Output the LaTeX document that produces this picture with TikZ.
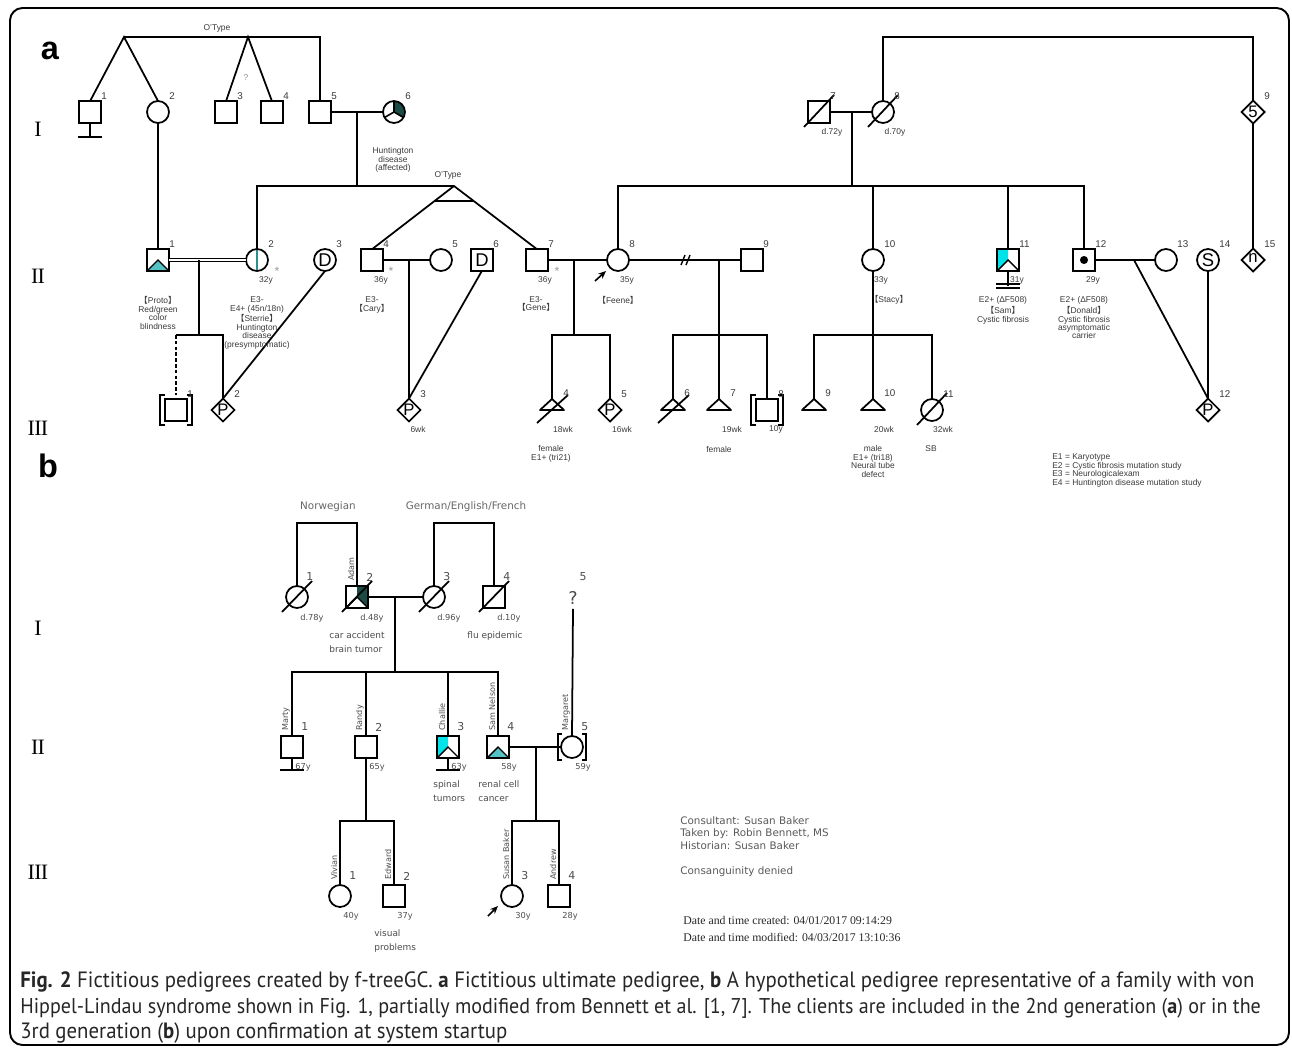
\documentclass[tikz,border=0pt]{standalone}
\usepackage{fontspec}
\setmainfont{Liberation Sans}
\newfontfamily\dvsans{DejaVu Sans}
\newfontfamily\romfont{Liberation Serif}
\newfontfamily\capfont[FakeStretch=0.94]{PT Sans}
\newfontfamily\cjkfont{Noto Sans CJK SC}
\usetikzlibrary{shapes.geometric, calc, arrows.meta}
\definecolor{tealfill}{HTML}{55C2C4}
\definecolor{cyanfill}{HTML}{00E3E8}
\definecolor{darkfill}{HTML}{1B4B45}
\definecolor{tealline}{HTML}{2A8F8F}
\definecolor{labelgray}{HTML}{3A3A3A}
\newcommand\lbk{{\cjkfont 【}}
\newcommand\rbk{{\cjkfont 】}}

\begin{document}
\begin{tikzpicture}[x=0.02cm, y=-0.02cm,
    line/.style={line width=1pt},
    ind/.style={draw, line width=1pt, inner sep=0pt, outer sep=0pt, minimum size=0.44cm},
    male/.style={ind, rectangle, minimum size=0.43cm},
    female/.style={ind, circle},
    unknown/.style={ind, diamond, minimum size=0.46cm},
    inletter/.style={inner sep=0pt, font=\fontsize{9.5}{10}\selectfont},
    affecttri/.style={path picture={\filldraw[fill=tealfill, line width=0.8pt] (path picture bounding box.south west) -- (path picture bounding box.center) -- (path picture bounding box.south east);}},
    cyanleft/.style={path picture={
        \fill[cyanfill] (path picture bounding box.north west) -- (path picture bounding box.north) -- (path picture bounding box.center) -- (path picture bounding box.south west) -- cycle;
        \draw[line width=0.8pt] (path picture bounding box.south west) -- (path picture bounding box.center) -- (path picture bounding box.south east);}},
    darkright/.style={path picture={
        \fill[darkfill] (path picture bounding box.north) -- (path picture bounding box.north east) -- (path picture bounding box.south east) -- (path picture bounding box.center) -- cycle;
        \draw[line width=0.8pt] (path picture bounding box.south west) -- (path picture bounding box.center) -- (path picture bounding box.south east);}},
    hdpie/.style={path picture={
        \fill[darkfill] (path picture bounding box.center) -- ([shift={(0,-14)}]path picture bounding box.center) -- ([shift={(14,-14)}]path picture bounding box.center) -- ([shift={(14,8.1)}]path picture bounding box.center) -- cycle;
        \draw[line width=0.9pt] ([shift={(0,-12)}]path picture bounding box.center) -- (path picture bounding box.center) -- ([shift={(-10.4,6)}]path picture bounding box.center) (path picture bounding box.center) -- ([shift={(10.4,6)}]path picture bounding box.center);}},
    tealvline/.style={path picture={\draw[tealline, line width=1.2pt] (path picture bounding box.north) -- (path picture bounding box.south);}},
    carrier/.style={path picture={\fill (path picture bounding box.center) circle (2.3pt);}},
    anum/.style={anchor=west, inner sep=0pt, text=labelgray, font=\fontsize{5.6}{6}\selectfont},
    alabel/.style={align=center, inner sep=0pt, text=labelgray, font=\fontsize{4.8}{4.8}\selectfont},
    star/.style={inner sep=0pt, text=black!40, font=\fontsize{7}{7}\selectfont},
    bnum/.style={anchor=west, inner sep=0pt, text=black!70, font=\dvsans\fontsize{6.2}{7}\selectfont},
    bage/.style={inner sep=0pt, text=black!70, font=\dvsans\fontsize{4.7}{5}\selectfont},
    bname/.style={rotate=90, anchor=west, inner sep=0pt, text=black!70, font=\dvsans\fontsize{4.6}{5}\selectfont},
    bnote/.style={align=left, inner sep=0pt, text=black!70, font=\dvsans\fontsize{5.1}{7.9}\selectfont},
    roman/.style={inner sep=0pt, font=\romfont\fontsize{12.5}{13}\selectfont},
    panel/.style={inner sep=0pt, font=\bfseries\fontsize{18.5}{20}\selectfont},
    caption/.style={anchor=west, inner sep=0pt, text=black!85, font=\capfont\fontsize{12.6}{14}\selectfont},
    proband/.style={-{Stealth[length=4.5pt, width=3.8pt]}, line width=0.9pt}
]
    \useasboundingbox (0,0) rectangle (1292,1048);
    \draw[line width=1.1pt, rounded corners=0.25cm] (10,8) rectangle (1289,1045);

    % panel labels and generations
    \node[panel] (panA) at (50,51) {a};
    \node[panel] (panB) at (48,466) {b};
    \node[roman] (genaI) at (38,129) {I};
    \node[roman] (genaII) at (38,276) {I\kern-0.4pt I};
    \node[roman] (genaIII) at (38,428) {I\kern-0.4pt I\kern-0.4pt I};
    \node[roman] (genbI) at (38,628) {I};
    \node[roman] (genbII) at (38,747) {I\kern-0.4pt I};
    \node[roman] (genbIII) at (38,872) {I\kern-0.4pt I\kern-0.4pt I};

    %%% panel a
    % generation I
    \node[male] (aI1) at (90,112) {};
    \node[female] (aI2) at (158,112) {};
    \node[male] (aI3) at (226,112) {};
    \node[male] (aI4) at (272,112) {};
    \node[male] (aI5) at (320,112) {};
    \node[female, hdpie] (aI6) at (394,112) {};
    \node[male] (aI7) at (819,112) {};
    \node[female] (aI8) at (883,112) {};
    \node[unknown] (aI9) at (1253,112) {};
    \node[inletter] (aI9-l) at (aI9) {5};

    % generation II
    \node[male, affecttri] (aII1) at (158,260) {};
    \node[female, tealvline] (aII2) at (257,260) {};
    \node[female] (aII3) at (325,260) {};
    \node[inletter, font=\fontsize{10.5}{11}\selectfont] (aII3-l) at (aII3) {D};
    \node[male] (aII4) at (372,260) {};
    \node[female] (aII5) at (441,260) {};
    \node[male] (aII6) at (482,260) {};
    \node[inletter, font=\fontsize{10.5}{11}\selectfont] (aII6-l) at (aII6) {D};
    \node[male] (aII7) at (537,260) {};
    \node[female] (aII8) at (618,260) {};
    \node[male] (aII9) at (752,260) {};
    \node[female] (aII10) at (873,260) {};
    \node[male, cyanleft] (aII11) at (1008,260) {};
    \node[male, carrier] (aII12) at (1084,260) {};
    \node[female] (aII13) at (1166,260) {};
    \node[female] (aII14) at (1208,260) {};
    \node[inletter, font=\fontsize{10.5}{11}\selectfont] (aII14-l) at (aII14) {S};
    \node[unknown] (aII15) at (1253,260) {};
    \node[inletter] (aII15-l) at ([yshift=1pt]aII15.center) {n};

    % generation III
    \node[male] (aIII1) at (176,410) {};
    \node[unknown] (aIII2) at (223,410) {};
    \node[unknown] (aIII3) at (409,410) {};
    \node[unknown] (aIII5) at (610,410) {};
    \node[male] (aIII8) at (767,410) {};
    \node[female] (aIII11) at (932,410) {};
    \node[unknown] (aIII12) at (1208,410) {};
    \foreach \n in {aIII2, aIII3, aIII5, aIII12}
        \node[inletter] (\n-l) at (\n) {P};
    \foreach \n/\x in {aIII4/552, aIII6/673, aIII7/719, aIII9/814, aIII10/873}{
        \coordinate (\n) at (\x,399);
        \draw[line, line join=round] (\n) -- ++(12,11) -- ++(-24,0) -- cycle;
    }

    % deceased, adopted
    \foreach \n in {aI7, aI8, aIII11}
        \draw[line] ([shift={(-15,15)}]\n.center) -- ([shift={(15,-17)}]\n.center);
    \foreach \n in {aIII4, aIII6}
        \draw[line] ([shift={(-15,24)}]\n) -- ([shift={(16,-4)}]\n);
    \foreach \n in {aIII1, aIII8}{
        \draw[line width=1.4pt] ([shift={(-11,-15)}]\n.center) -- ++(-5,0) -- ++(0,30) -- ++(5,0);
        \draw[line width=1.4pt] ([shift={(11,-15)}]\n.center) -- ++(5,0) -- ++(0,30) -- ++(-5,0);
    }

    % lines of generation I
    \coordinate (twA) at (124,37);
    \coordinate (twB) at (248,37);
    \draw[line] (aI1.north) -- (twA) -- (aI2.north);
    \draw[line] (aI3.north) -- (twB) -- (aI4.north);
    \draw[line] (twA) -| (aI5.north);
    \draw[line] (aI1.south) -- ++(0,14) ++(-12,0) -- ++(24,0);
    \draw[line] (aI2.south) -- (aII1.north);
    \draw[line] (aI5.east) -- (aI6.west);
    \coordinate (mA) at (357,112);
    \coordinate (sA) at (357,186);
    \coordinate (twC) at (454,186);
    \draw[line] (mA) -- (sA);
    \draw[line] (aII2.north) |- (twC);
    \draw[line] (aII4.north) -- (twC) -- (aII7.north);
    \draw[line] ($(twC)!0.24!(aII4.north)$) -- ($(twC)!0.24!(aII7.north)$);
    \draw[line] (aI7.east) -- (aI8.west);
    \coordinate (mB) at (852,112);
    \coordinate (sB) at (852,186);
    \draw[line] (mB) -- (sB);
    \draw[line] (aII8.north) |- (sB) -| (aII12.north);
    \draw[line] (aII10.north) -- (aII10.north |- sB);
    \draw[line] (aII11.north) -- (aII11.north |- sB);
    \coordinate (topR) at (1000,37);
    \draw[line] (aI8.north) |- (topR) -| (aI9.north);
    \draw[line] (aI9.south) -- (aII15.north);

    % lines of generation II
    \draw[line width=0.6pt, double, double distance=1.3pt] (aII1.east) -- (aII2.west);
    \coordinate (mC) at (199,260);
    \coordinate (sC) at (199,335);
    \draw[line] (mC) -- (sC);
    \draw[line] (aIII1.north |- sC) -- (sC) -| (aIII2.north);
    \draw[line width=1.2pt, dash pattern=on 2pt off 1.3pt] (aIII1.north |- sC) -- ([shift={(0,-4)}]aIII1.north);
    \draw[line] (aII3.south) -- (aIII2.north);
    \draw[line] (aII4.east) -- (aII5.west);
    \coordinate (mD) at (409,260);
    \draw[line] (mD) -- (aIII3.north);
    \draw[line] (aII6.south) -- (aIII3.north);
    \draw[line] (aII7.east) -- (aII8.west);
    \coordinate (mE) at (574,260);
    \coordinate (sE) at (574,335);
    \draw[line] (mE) -- (sE);
    \draw[line] (aIII4) |- (sE) -| (aIII5.north);
    \draw[line] (aII8.east) -- (aII9.west);
    \draw[line width=0.8pt] (681,265) -- (685,255) (686,265) -- (690,255);
    \coordinate (mF) at (719,260);
    \coordinate (sF) at (719,335);
    \draw[line] (mF) -- (sF) -- (aIII7);
    \draw[line] (aIII6) |- (sF) -| (aIII8.north);
    \coordinate (sG) at (873,335);
    \draw[line] (aII10.south) -- (sG) -- (aIII10);
    \draw[line] (aIII9) |- (sG) -| (aIII11.north);
    \draw[line] (aII11.south) -- ++(0,15);
    \draw[line] ([shift={(-12,13)}]aII11.south) -- ++(24,0) ++(0,4) -- ++(-24,0);
    \draw[line] (aII12.east) -- (aII13.west);
    \coordinate (mH) at (1134,260);
    \draw[line] (mH) -- (aIII12.north);
    \draw[line] (aII14.south) -- (aIII12.north);
    \coordinate (prA) at (595,281);
    \draw[proband] (prA) -- ([shift={(-12,11)}]aII8.center);

    % numbers
    \foreach \n/\t in {aI1/1, aI2/2, aI3/3, aI4/4, aI5/5, aI6/6, aI7/7, aI8/8, aI9/9,
        aII1/1, aII2/2, aII3/3, aII4/4, aII5/5, aII6/6, aII7/7, aII8/8, aII9/9, aII10/10,
        aII11/11, aII12/12, aII13/13, aII14/14, aII15/15,
        aIII1/1, aIII2/2, aIII3/3, aIII5/5, aIII8/8, aIII11/11, aIII12/12}
        \node[anum] (\n-num) at ([shift={(11,-16)}]\n.center) {\t};
    \foreach \n/\t in {aIII4/4, aIII6/6, aIII7/7, aIII9/9, aIII10/10}
        \node[anum] (\n-num) at ([shift={(11,-6)}]\n) {\t};

    % ages and notes
    \node[alabel] (otA) at (217,28) {O'Type};
    \node[alabel, text=black!45] (askA) at (246,78) {?};
    \node[alabel] (hdA) at (393,160) {Huntington\\disease\\(affected)};
    \node[alabel] (otB) at (448,175) {O'Type};
    \node[alabel] (aI7-age) at (832,132) {d.72y};
    \node[alabel] (aI8-age) at (895,132) {d.70y};
    \foreach \n/\x/\t in {aII2/266/32y, aII4/381/36y, aII7/545/36y, aII8/627/35y,
        aII10/881/33y, aII11/1017/31y, aII12/1093/29y}
        \node[alabel] (\n-age) at (\x,280) {\t};
    \foreach \n/\x in {aII2/277, aII4/391, aII7/557}
        \node[star] (\n-star) at (\x,271) {*};
    \node[alabel, anchor=north] (aII1-txt) at (158,296.5) {\lbk Proto\rbk\\Red/green\\color\\blindness};
    \node[alabel, anchor=north] (aII2-txt) at (257,296.5) {E3-\\E4+ (45n/18n)\\\lbk Sterrie\rbk\\Huntington\\disease\\(presymptomatic)};
    \node[alabel, anchor=north] (aII4-txt) at (372,296.5) {E3-\\\lbk Cary\rbk};
    \node[alabel, anchor=north] (aII7-txt) at (536,296) {E3-\\\lbk Gene\rbk};
    \node[alabel] (aII8-txt) at (618,300) {\lbk Feene\rbk};
    \node[alabel] (aII10-txt) at (889,300) {\lbk Stacy\rbk};
    \node[alabel, anchor=north] (aII11-txt) at (1003,296.5) {E2+ (ΔF508)\\\lbk Sam\rbk\\Cystic fibrosis};
    \node[alabel, anchor=north] (aII12-txt) at (1084,296.5) {E2+ (ΔF508)\\\lbk Donald\rbk\\Cystic fibrosis\\asymptomatic\\carrier};
    \foreach \n/\x/\t in {aIII3/418/6wk, aIII4/563/18wk, aIII5/622/16wk, aIII7/732/19wk,
        aIII8/776/10y, aIII10/884/20wk, aIII11/943/32wk}
        \node[alabel] (\n-age) at (\x,429) {\t};
    \node[alabel, anchor=north] (aIII4-txt) at (551,445.5) {female\\E1+ (tri21)};
    \node[alabel] (aIII7-txt) at (719,449) {female};
    \node[alabel, anchor=north] (aIII10-txt) at (873,445.5) {male\\E1+ (tri18)\\Neural tube\\defect};
    \node[alabel] (aIII11-txt) at (931,449) {SB};
    \node[alabel, align=left, anchor=north west, font=\fontsize{4.8}{4.85}\selectfont] (legA) at (1052,453.5) {E1 = Karyotype\\E2 = Cystic fibrosis mutation study\\E3 = Neurologicalexam\\E4 = Huntington disease mutation study};

    %%% panel b
    % generation I
    \node[female] (bI1) at (297,597) {};
    \node[male, darkright] (bI2) at (357,597) {};
    \node[female] (bI3) at (434,597) {};
    \node[male] (bI4) at (494,597) {};
    \node[inner sep=0pt, text=black!70, font=\dvsans\fontsize{10}{10}\selectfont] (bI5) at (573,598) {?};
    \foreach \n in {bI1, bI2, bI3, bI4}
        \draw[line] ([shift={(-15,15)}]\n.center) -- ([shift={(15,-16)}]\n.center);

    % generation II
    \node[male] (bII1) at (292,747) {};
    \node[male] (bII2) at (366,747) {};
    \node[male, cyanleft] (bII3) at (448,747) {};
    \node[male, affecttri] (bII4) at (498,747) {};
    \node[female] (bII5) at (572,747) {};
    \draw[line width=1.3pt] ([shift={(-10,-13)}]bII5.center) -- ++(-4,0) -- ++(0,26) -- ++(4,0);
    \draw[line width=1.3pt] ([shift={(10,-13)}]bII5.center) -- ++(4,0) -- ++(0,26) -- ++(-4,0);
    \foreach \n in {bII1, bII3}
        \draw[line] (\n.south) -- ++(0,12) ++(-12,0) -- ++(24,0);

    % generation III
    \node[female] (bIII1) at (340,896) {};
    \node[male] (bIII2) at (394,896) {};
    \node[female] (bIII3) at (512,896) {};
    \node[male] (bIII4) at (559,896) {};

    % lines
    \coordinate (tpA) at (327,523);
    \coordinate (tpB) at (464,523);
    \draw[line] (bI1.north) |- (tpA) -| (bI2.north);
    \draw[line] (bI3.north) |- (tpB) -| (bI4.north);
    \draw[line] (bI2.east) -- (bI3.west);
    \coordinate (mJ) at (395,597);
    \coordinate (sJ) at (395,672);
    \draw[line] (mJ) -- (sJ);
    \draw[line] (bII1.north) |- (sJ) -| (bII4.north);
    \draw[line] (bII2.north) -- (bII2.north |- sJ);
    \draw[line] (bII3.north) -- (bII3.north |- sJ);
    \draw[line] ([shift={(0,4)}]bI5.south) -- (bII5.north);
    \draw[line] (bII4.east) -- (bII5.west);
    \coordinate (mK) at (536,747);
    \coordinate (sK) at (536,821);
    \draw[line] (mK) -- (sK);
    \draw[line] (bIII3.north) |- (sK) -| (bIII4.north);
    \coordinate (sL) at (366,821);
    \draw[line] (bII2.south) -- (sL);
    \draw[line] (bIII1.north) |- (sL) -| (bIII2.north);
    \coordinate (prB) at (488,916);
    \draw[proband] (prB) -- ([shift={(-14,10)}]bIII3.center);

    % numbers, ages, names
    \foreach \n/\t in {bI1/1, bI2/2, bI3/3, bI4/4, bII1/1, bII2/2, bII3/3, bII4/4, bII5/5,
        bIII1/1, bIII2/2, bIII3/3, bIII4/4}
        \node[bnum] (\n-num) at ([shift={(9,-20)}]\n.center) {\t};
    \node[bnum, anchor=center] (bI5-num) at (583,577) {5};
    \foreach \n/\t in {bI1/d.78y, bI2/d.48y, bI3/d.96y, bI4/d.10y}
        \node[bage] (\n-age) at ([shift={(15,21)}]\n.center) {\t};
    \foreach \n/\t in {bII1/67y, bII2/65y, bII3/63y, bII4/58y, bII5/59y,
        bIII1/40y, bIII2/37y, bIII3/30y, bIII4/28y}
        \node[bage] (\n-age) at ([shift={(11,20)}]\n.center) {\t};
    \foreach \n/\t in {bI2/Adam, bII1/Marty, bII2/Randy, bII3/Challie, bII4/Sam Nelson,
        bII5/Margaret, bIII1/Vivian, bIII2/Edward, bIII3/Susan Baker, bIII4/Andrew}
        \node[bname] (\n-name) at ([shift={(-6,-16)}]\n.center) {\t};
    \node[bnote, text=black!60, font=\dvsans\fontsize{5.9}{7}\selectfont] (ethA) at (328,507) {Norwegian};
    \node[bnote, text=black!60, font=\dvsans\fontsize{5.9}{7}\selectfont] (ethB) at (466,507) {German/English/French};
    \node[bnote, anchor=north west] (bI2-txt) at (329,631) {car accident\\brain tumor};
    \node[bnote, anchor=north west] (bI4-txt) at (467,631) {flu epidemic};
    \node[bnote, anchor=north west] (bII3-txt) at (433,780) {spinal\\tumors};
    \node[bnote, anchor=north west] (bII4-txt) at (478,780) {renal cell\\cancer};
    \node[bnote, anchor=north west] (bIII2-txt) at (374,929) {visual\\problems};
    \node[bnote, anchor=north west, text=black!65, font=\dvsans\fontsize{5.9}{7.2}\selectfont] (notes) at (680,816) {Consultant: Susan Baker\\Taken by: Robin Bennett, MS\\Historian: Susan Baker};
    \node[bnote, anchor=west, text=black!65, font=\dvsans\fontsize{5.9}{7.2}\selectfont] (consang) at (680,872) {Consanguinity denied};
    \node[align=left, anchor=north west, inner sep=0pt, text=black!85, font=\romfont\fontsize{6.7}{9.6}\selectfont] (dates) at (683,916) {Date and time created: 04/01/2017 09:14:29\\Date and time modified: 04/03/2017 13:10:36};

    % caption
    \node[caption] (capA) at (20,982) {\textbf{Fig. 2} Fictitious pedigrees created by f-treeGC. \textbf{a} Fictitious ultimate pedigree, \textbf{b} A hypothetical pedigree representative of a family with von};
    \node[caption, font=\capfont\fontsize{12.15}{14}\selectfont] (capB) at (20,1008) {Hippel-Lindau syndrome shown in Fig. 1, partially modified from Bennett et al. [1, 7]. The clients are included in the 2nd generation (\textbf{a}) or in the};
    \node[caption] (capC) at (20,1033) {3rd generation (\textbf{b}) upon confirmation at system startup};
\end{tikzpicture}
\end{document}
